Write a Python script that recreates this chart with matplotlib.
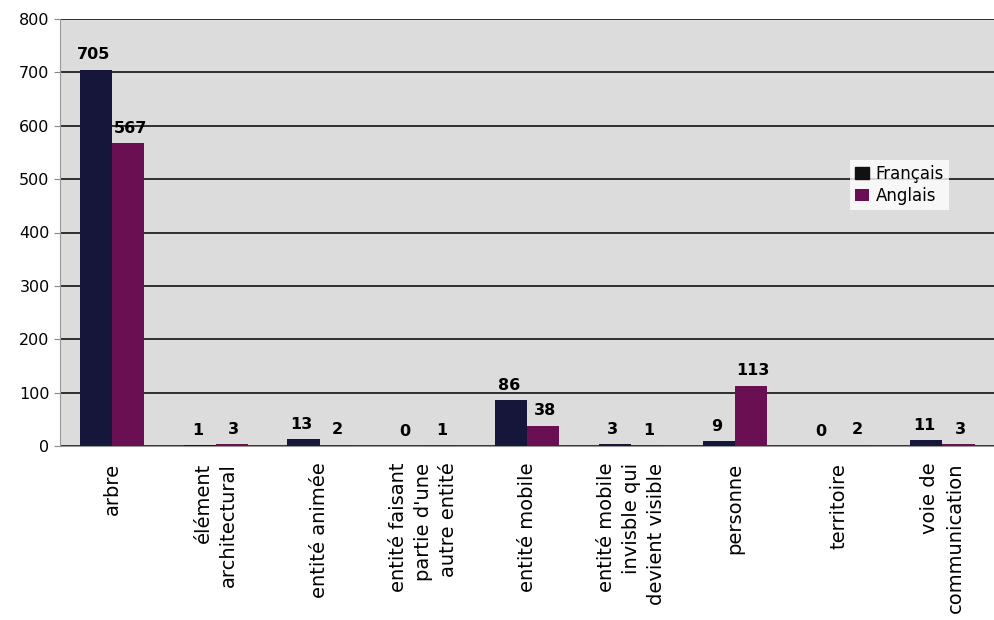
import matplotlib
matplotlib.use("Agg")
import matplotlib.pyplot as plt
import numpy as np

categories = ["arbre", "élément\narchitectural", "entité animée",
              "entité faisant\npartie d'une\nautre entité", "entité mobile",
              "entité mobile\ninvisble qui\ndevient visible", "personne",
              "territoire", "voie de\ncommunication"]
francais = [705, 1, 13, 0, 86, 3, 9, 0, 11]
anglais = [567, 3, 2, 1, 38, 1, 113, 2, 3]
yticks = [0, 100, 200, 300, 400, 500, 600, 700, 800]

plt.rcParams['font.family'] = ['Verdana', 'DejaVu Sans']

fig = plt.figure(figsize=(9.94, 6.2), dpi=100)
ax = fig.add_axes([0.0604, 0.2806, 0.94, 0.6888])
ax.set_facecolor("#dcdcdc")

x = np.arange(len(categories))
w = 0.31
b1 = ax.bar(x - w / 2, francais, w, color="#16163a", label="Français", zorder=3)
b2 = ax.bar(x + w / 2, anglais, w, color="#6a0f52", label="Anglais", zorder=3)

for rect, v in zip(b1, francais):
    ax.text(rect.get_x() + rect.get_width() / 2 - 0.02, v + 14, str(v),
            ha="center", va="bottom", fontsize=11.5, fontweight="bold", zorder=4)
for rect, v in zip(b2, anglais):
    ax.text(rect.get_x() + rect.get_width() / 2 + 0.02, v + 14, str(v),
            ha="center", va="bottom", fontsize=11.5, fontweight="bold", zorder=4)

ax.set_ylim(0, 800)
ax.set_xlim(-0.5, len(categories) - 0.5)
ax.set_yticks(yticks)
ax.set_yticklabels([str(t) for t in yticks], fontsize=11.5)
ax.yaxis.grid(True, color="black", linewidth=1.1, zorder=1)
ax.set_axisbelow(True)

ax.set_xticks(x)
ax.set_xticklabels(categories, rotation=90, fontsize=14, ha="center",
                   va="top", multialignment="right", linespacing=1.4)
ax.tick_params(axis="x", length=0, pad=12)
ax.tick_params(axis="y", length=4, color="#888888")

for s in ["top", "right"]:
    ax.spines[s].set_visible(False)
ax.spines["left"].set_color("#999999")
ax.spines["bottom"].set_color("#999999")

leg = ax.legend(loc="upper left", bbox_to_anchor=(0.837, 0.69), frameon=True,
                fontsize=12, handlelength=0.8, handleheight=0.8,
                handletextpad=0.4, borderpad=0.3, labelspacing=0.25)
leg.get_frame().set_facecolor("white")
leg.get_frame().set_edgecolor("none")
leg.get_frame().set_boxstyle("square", pad=0.0)
leg.legend_handles[0].set_color("#111111")

fig.savefig("out.png", dpi=100, facecolor="white")
